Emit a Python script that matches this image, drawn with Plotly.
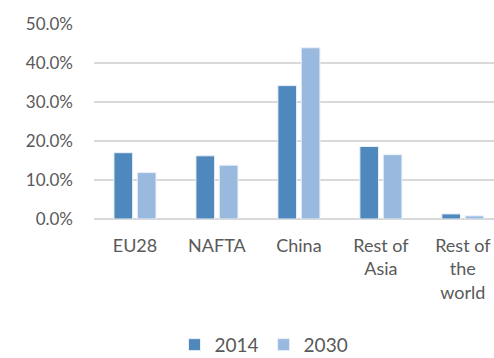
import plotly.graph_objects as go

regions = ["EU28", "NAFTA", "China", "Rest of<br>Asia", "Rest of<br>the<br>world"]
share_2014 = [0.170, 0.162, 0.342, 0.186, 0.013]
share_2030 = [0.119, 0.138, 0.439, 0.165, 0.008]

font_family = "Lato, Open Sans, sans-serif"
text_grey = "#595959"

fig = go.Figure()
fig.add_trace(go.Bar(
    x=regions, y=share_2014, name="2014",
    marker=dict(color="#4F88BD", line=dict(color="#EAF1F8", width=1)),
))
fig.add_trace(go.Bar(
    x=regions, y=share_2030, name="2030",
    marker=dict(color="#99B9DF", line=dict(color="#EAF1F8", width=1)),
))

fig.update_layout(
    width=494, height=358,
    margin=dict(l=94, r=0, t=24, b=139, autoexpand=False),
    paper_bgcolor="white", plot_bgcolor="white",
    barmode="group", bargap=0.43, bargroupgap=0.2,
    font=dict(family=font_family, size=16, color=text_grey),
    showlegend=True,
    legend=dict(orientation="h", x=0.425, xanchor="center", y=-0.645, yanchor="middle",
                font=dict(size=19, color=text_grey), itemwidth=30),
)
fig.update_xaxes(
    range=[-0.5, 4.38], showgrid=False, showline=False, ticks="",
    ticklabelstandoff=14,
    tickfont=dict(size=18, color=text_grey),
)
fig.update_yaxes(
    range=[0, 0.5], dtick=0.1, tickformat=".1%",
    showgrid=True, gridcolor="#D9D9D9", gridwidth=1.5,
    zeroline=True, zerolinecolor="#D9D9D9", zerolinewidth=1.5,
    showline=False, ticks="", ticklabelstandoff=20,
    tickfont=dict(size=17, color=text_grey),
)

fig.write_html("out.html")
